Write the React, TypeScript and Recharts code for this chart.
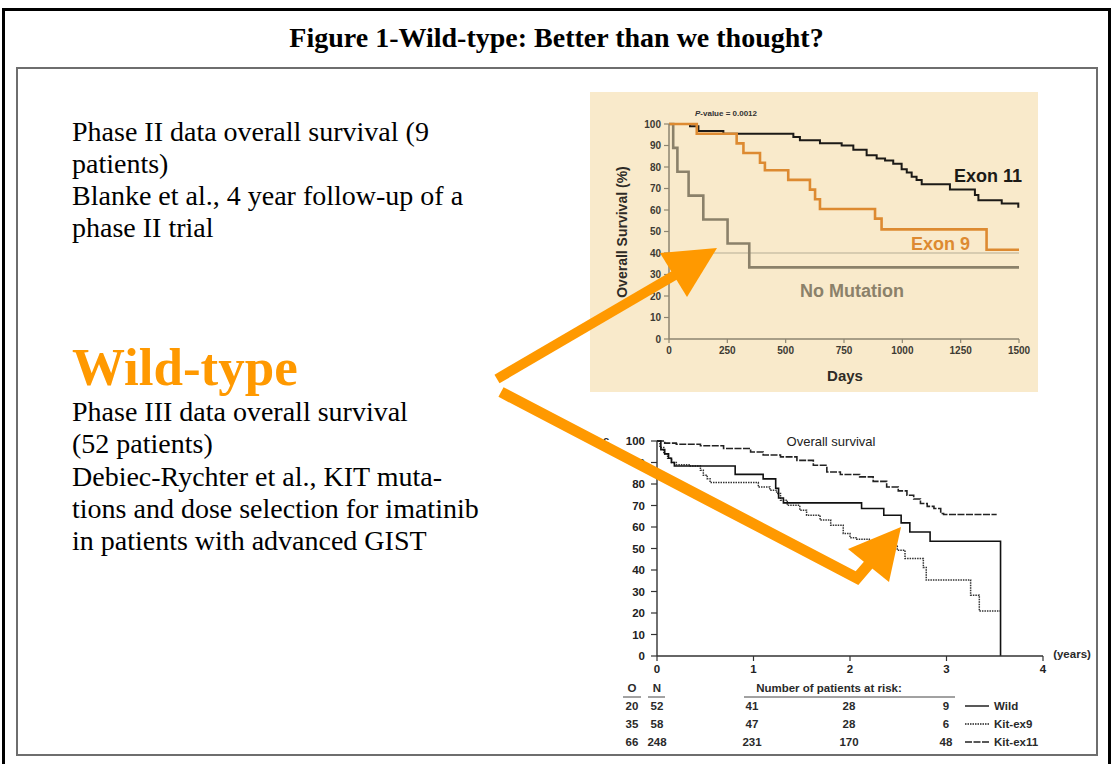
import { LineChart, Line, XAxis, YAxis, ReferenceLine } from "recharts";

// top panel: Blanke et al., phase II, overall survival by mutation (days)
const dayTicks = [0, 250, 500, 750, 1000, 1250, 1500];
const pctTicks = [0, 10, 20, 30, 40, 50, 60, 70, 80, 90, 100];

const exon11Days = [0, 90, 126, 233, 533, 561, 647, 740, 790, 847, 890, 926, 961, 997, 1019, 1040, 1061, 1083, 1204, 1311, 1326, 1426, 1497];
const exon11Surv = [100, 99, 96.8, 95.5, 94, 92.5, 91, 90, 88, 85.5, 84, 83, 81.5, 79, 77.5, 75.5, 74, 72, 69.5, 67, 64.5, 63, 61];

const exon9Days = [0, 119, 290, 319, 390, 411, 511, 604, 626, 647, 883, 911, 1361, 1500];
const exon9Surv = [100, 95.5, 91, 86.5, 82, 78.5, 74, 69.5, 65, 60.5, 56, 51, 41.5, 41.5];

const noMutDays = [0, 18, 36, 84, 147, 251, 344, 1500];
const noMutSurv = [100, 88.9, 77.8, 66.7, 55.6, 44.4, 33.3, 33.3];

// bottom panel: Debiec-Rychter et al., phase III, overall survival (years)
const yearTicks = [0, 1, 2, 3, 4];

const wildYears = [0, 0.04, 0.08, 0.12, 0.15, 0.18, 0.81, 1.1, 1.23, 1.26, 1.31, 2.12, 2.35, 2.53, 2.62, 2.83, 3.56, 3.56];
const wildSurv = [100, 96, 94, 92, 90, 88.4, 84.5, 82.4, 78, 73.5, 71.2, 68.6, 65.5, 61.9, 57.7, 53.4, 0, 0];

const ex9Years = [0, 0.03, 0.07, 0.11, 0.15, 0.2, 0.345, 0.45, 0.48, 0.52, 0.55, 1.05, 1.17, 1.24, 1.28, 1.35, 1.48, 1.55, 1.69, 1.8, 1.93, 2.0, 2.07, 2.2, 2.42, 2.49, 2.57, 2.76, 2.79, 3.25, 3.34, 3.56];
const ex9Surv = [100, 97, 94, 92, 90, 89, 88.4, 86.4, 84.1, 82.5, 80.7, 78.6, 77.1, 75.6, 72.5, 70.1, 67.8, 65.5, 63.2, 60.8, 57, 55, 54.3, 53, 51, 49.2, 45.4, 41.2, 35.3, 28.3, 20.9, 20.9];

const ex11Years = [0, 0.08, 0.2, 0.45, 0.69, 0.97, 1.1, 1.28, 1.45, 1.62, 1.76, 1.9, 2.1, 2.24, 2.38, 2.5, 2.59, 2.66, 2.73, 2.8, 2.87, 2.94, 2.97, 3.52];
const ex11Surv = [100, 99, 98.5, 97.8, 96.5, 94.9, 93.5, 92.6, 91, 88.7, 85.6, 84.4, 83.3, 81.2, 78.6, 76.8, 74.8, 73, 70.9, 69.6, 68.6, 66.3, 65.8, 65.8];

// number at risk table
const riskGroups = ["Wild", "Kit-ex9", "Kit-ex11"];
const riskO = [20, 35, 66];
const riskN = [52, 58, 248];
const riskYear1 = [41, 47, 231];
const riskYear2 = [28, 28, 170];
const riskYear3 = [9, 6, 48];

const leftTop = [
  "Phase II data overall survival (9",
  "patients)",
  "Blanke et al., 4 year follow-up of a",
  "phase II trial",
];
const leftBottom = [
  "Phase III data overall survival",
  "(52 patients)",
  "Debiec-Rychter et al., KIT muta-",
  "tions and dose selection for imatinib",
  "in patients with advanced GIST",
];

const serif = '"Liberation Serif", "Times New Roman", serif';
const sans = '"Liberation Sans", Arial, sans-serif';
const ORANGE = "#ff9900";

const toPoints = (xs: number[], ys: number[]) => xs.map((x, i) => ({ x, y: ys[i] }));

function TopChart() {
  const axisCol = "#8d8571";
  const tick = { fontSize: 10, fontWeight: 700, fill: "#3d3a33", fontFamily: sans };
  return (
    <div style={{ position: "absolute", left: 590, top: 92, width: 448, height: 300, background: "#f9eacb" }}>
      <LineChart width={448} height={300} margin={{ top: 32, right: 19, bottom: 0, left: 0 }}>
        <XAxis
          type="number"
          dataKey="x"
          domain={[0, 1500]}
          ticks={dayTicks}
          interval={0}
          height={53}
          tickSize={4}
          tickMargin={4}
          axisLine={{ stroke: axisCol, strokeWidth: 1.5 }}
          tickLine={{ stroke: axisCol, strokeWidth: 1.2 }}
          tick={tick}
        />
        <YAxis
          type="number"
          domain={[0, 100]}
          ticks={pctTicks}
          interval={0}
          width={79}
          tickSize={5}
          tickMargin={3}
          axisLine={{ stroke: axisCol, strokeWidth: 1.5 }}
          tickLine={{ stroke: axisCol, strokeWidth: 1.2 }}
          tick={tick}
        />
        <ReferenceLine y={40} stroke="#b5ad95" strokeWidth={1} />
        <Line data={toPoints(noMutDays, noMutSurv)} dataKey="y" type="stepAfter" stroke="#8b816a" strokeWidth={2.6} dot={false} isAnimationActive={false} />
        <Line data={toPoints(exon11Days, exon11Surv)} dataKey="y" type="stepAfter" stroke="#1c1a17" strokeWidth={2} dot={false} isAnimationActive={false} />
        <Line data={toPoints(exon9Days, exon9Surv)} dataKey="y" type="stepAfter" stroke="#dd8a31" strokeWidth={2.6} dot={false} isAnimationActive={false} />
      </LineChart>
    </div>
  );
}

function BottomChart() {
  const tick = { fontSize: 11.5, fontWeight: 700, fill: "#222", fontFamily: sans };
  return (
    <div style={{ position: "absolute", left: 596, top: 425, width: 465, height: 255 }}>
      <LineChart width={465} height={255} margin={{ top: 16, right: 18, bottom: 0, left: 0 }}>
        <XAxis
          type="number"
          dataKey="x"
          domain={[0, 4]}
          ticks={yearTicks}
          interval={0}
          height={24}
          tickSize={5}
          tickMargin={4}
          axisLine={{ stroke: "#333", strokeWidth: 1.4 }}
          tickLine={{ stroke: "#333", strokeWidth: 1.2 }}
          tick={tick}
        />
        <YAxis
          type="number"
          domain={[0, 100]}
          ticks={pctTicks}
          interval={0}
          width={61}
          tickSize={6}
          tickMargin={6}
          axisLine={{ stroke: "#333", strokeWidth: 1.4 }}
          tickLine={{ stroke: "#333", strokeWidth: 1.2 }}
          tick={tick}
        />
        <Line data={toPoints(ex11Years, ex11Surv)} dataKey="y" type="stepAfter" stroke="#222" strokeWidth={1.6} strokeDasharray="7 1.5" dot={false} isAnimationActive={false} />
        <Line data={toPoints(ex9Years, ex9Surv)} dataKey="y" type="stepAfter" stroke="#333" strokeWidth={1.5} strokeDasharray="1.5 1" dot={false} isAnimationActive={false} />
        <Line data={toPoints(wildYears, wildSurv)} dataKey="y" type="stepAfter" stroke="#111" strokeWidth={1.6} dot={false} isAnimationActive={false} />
      </LineChart>
    </div>
  );
}

function Overlay() {
  const rowY = [706, 724, 742];
  const legendDash = ["none", "1.5 1", "7 1.5"];
  const cols = [752, 849, 946];
  const t = { fontFamily: sans, fontWeight: 700, fontSize: 11.5, fill: "#2a2a2a" } as const;
  return (
    <svg width={1113} height={764} style={{ position: "absolute", left: 0, top: 0, pointerEvents: "none" }}>
      {/* top panel annotations */}
      <text x={726} y={116} textAnchor="middle" style={{ fontFamily: sans, fontSize: 8, fontWeight: 700, fill: "#333" }}>
        <tspan fontStyle="italic">P</tspan>-value = 0.0012
      </text>
      <text x={622} y={232} textAnchor="middle" dominantBaseline="central" transform="rotate(-90 622 232)" style={{ fontFamily: sans, fontSize: 14, fontWeight: 700, fill: "#2e2b26" }}>
        Overall Survival (%)
      </text>
      <text x={845} y={381} textAnchor="middle" style={{ fontFamily: sans, fontSize: 15, fontWeight: 700, fill: "#2e2b26" }}>Days</text>
      <text x={1022} y={182} textAnchor="end" style={{ fontFamily: sans, fontSize: 18, fontWeight: 700, fill: "#1c1a17" }}>Exon 11</text>
      <text x={970} y={250} textAnchor="end" style={{ fontFamily: sans, fontSize: 18, fontWeight: 700, fill: "#dd8a31" }}>Exon 9</text>
      <text x={852} y={297} textAnchor="middle" style={{ fontFamily: sans, fontSize: 18, fontWeight: 700, fill: "#8b816a" }}>No Mutation</text>

      {/* bottom panel annotations */}
      <text x={606} y={444} textAnchor="middle" style={{ ...t, fontSize: 11 }}>c</text>
      <text x={831} y={446} textAnchor="middle" style={{ fontFamily: sans, fontSize: 13, fill: "#222" }}>Overall survival</text>
      <text x={1072} y={658} textAnchor="middle" style={t}>(years)</text>
      <text x={632} y={692} textAnchor="middle" style={t}>O</text>
      <text x={657} y={692} textAnchor="middle" style={t}>N</text>
      <text x={829} y={692} textAnchor="middle" style={t}>Number of patients at risk:</text>
      <line x1={623} x2={641} y1={697} y2={697} stroke="#444" strokeWidth={1} />
      <line x1={648} x2={665} y1={697} y2={697} stroke="#444" strokeWidth={1} />
      <line x1={744} x2={955} y1={697} y2={697} stroke="#444" strokeWidth={1} />
      {riskGroups.map((g, i) => (
        <g key={g}>
          <text x={632} y={rowY[i] + 4} textAnchor="middle" style={t}>{riskO[i]}</text>
          <text x={657} y={rowY[i] + 4} textAnchor="middle" style={t}>{riskN[i]}</text>
          <text x={cols[0]} y={rowY[i] + 4} textAnchor="middle" style={t}>{riskYear1[i]}</text>
          <text x={cols[1]} y={rowY[i] + 4} textAnchor="middle" style={t}>{riskYear2[i]}</text>
          <text x={cols[2]} y={rowY[i] + 4} textAnchor="middle" style={t}>{riskYear3[i]}</text>
          <line x1={965} x2={989} y1={rowY[i]} y2={rowY[i]} stroke="#222" strokeWidth={1.5} strokeDasharray={legendDash[i]} />
          <text x={994} y={rowY[i] + 4} style={t}>{g}</text>
        </g>
      ))}

      {/* orange arrows */}
      <line x1={497} y1={379} x2={675} y2={275} stroke={ORANGE} strokeWidth={10} />
      <polygon points="717,248 660,253 687,297" fill={ORANGE} />
      <polyline points="501,392 857,578 870,563" fill="none" stroke={ORANGE} strokeWidth={11} strokeLinejoin="miter" />
      <polygon points="901,527 848,549 889,582" fill={ORANGE} />
    </svg>
  );
}

export default function App() {
  return (
    <div style={{ position: "absolute", left: 0, top: 0, width: 1113, height: 764, background: "#fff", overflow: "hidden" }}>
      <div style={{ position: "absolute", left: 2, top: 8, width: 1109, height: 800, border: "3px solid #000", boxSizing: "border-box" }} />
      <div style={{ position: "absolute", left: 16, top: 67, width: 1082, height: 689, border: "2px solid #6e6e6e", boxSizing: "border-box" }} />
      <div style={{ position: "absolute", left: 0, top: 22, width: 1113, textAlign: "center", fontFamily: serif, fontWeight: 700, fontSize: 28, lineHeight: "32px" }}>
        Figure 1-Wild-type: Better than we thought?
      </div>
      <div style={{ position: "absolute", left: 72, top: 116, fontFamily: serif, fontSize: 28, lineHeight: "32px", whiteSpace: "pre", color: "#000" }}>
        {leftTop.map((l) => (
          <div key={l}>{l}</div>
        ))}
      </div>
      <div style={{ position: "absolute", left: 72, top: 341, fontFamily: serif, fontWeight: 700, fontSize: 53, lineHeight: "53px", color: ORANGE }}>
        Wild-type
      </div>
      <div style={{ position: "absolute", left: 72, top: 396, fontFamily: serif, fontSize: 28, lineHeight: "32.25px", whiteSpace: "pre", color: "#000" }}>
        {leftBottom.map((l) => (
          <div key={l}>{l}</div>
        ))}
      </div>
      <TopChart />
      <BottomChart />
      <Overlay />
    </div>
  );
}
